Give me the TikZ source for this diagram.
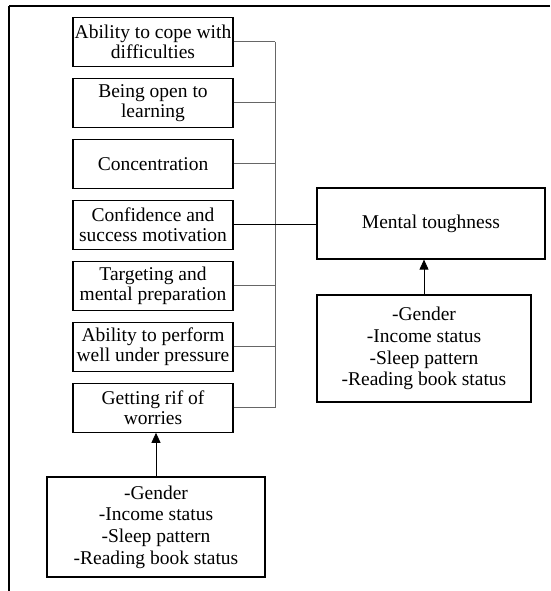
\documentclass[tikz,border=0pt]{standalone}
\usepackage{fontspec}
\setmainfont{Liberation Serif}
\usetikzlibrary{arrows.meta}
\begin{document}
\begin{tikzpicture}[x=1pt, y=-1pt,
  factor/.style={draw, line width=1.2pt, align=center, inner sep=1pt, minimum width=160pt, minimum height=49pt, font=\fontsize{19.5}{20}\selectfont},
  outcome/.style={draw, line width=1.2pt, align=center, inner sep=1pt, font=\fontsize{19.5}{21.7}\selectfont},
  link/.style={draw=gray!80!black, line width=0.8pt},
  mainlink/.style={draw=black, line width=1.3pt},
  up/.style={-{Triangle[length=10pt,width=9pt]}, line width=0.8pt}
]
\useasboundingbox (0,0) rectangle (550,591);
% frame
\draw[line width=2pt] (550,6) -- (9,6);
\draw[line width=1.2pt] (9,6) -- (9,591);

\matrix[row sep=10.8pt, inner sep=0pt, anchor=north] at (153,16.4) {
\node[factor] (cope) {Ability to cope with\\difficulties}; \\
\node[factor] (open) {Being open to\\learning}; \\
\node[factor] (conc) {Concentration}; \\
\node[factor] (conf) {Confidence and\\success motivation}; \\
\node[factor] (targ) {Targeting and\\mental preparation}; \\
\node[factor] (press) {Ability to perform\\well under pressure}; \\
\node[factor] (worry) {Getting rif of\\worries}; \\
};

\node[outcome, minimum width=228pt, minimum height=71pt] (tough) at (431,223.5) {Mental toughness};
\node[outcome, minimum width=214pt, minimum height=107pt] (rdemo) at (424,348.5) {-Gender\\-Income status\\-Sleep pattern\\-Reading book status};
\node[outcome, minimum width=218pt, minimum height=100pt] (ldemo) at (156,527) {-Gender\\-Income status\\-Sleep pattern\\-Reading book status};

\coordinate (bus) at (275,223.5);
\foreach \f in {cope,open,conc,targ,press,worry}
  \draw[link] (\f.east) -- (\f.east -| bus);
\draw[link] (cope.east -| bus) -- (worry.east -| bus);
\draw[mainlink] (conf.east) -- (conf.east -| tough.west);

\draw[up] (rdemo.north) -- (rdemo.north |- tough.south);
\draw[up] (ldemo.north) -- (ldemo.north |- worry.south);
\end{tikzpicture}
\end{document}
